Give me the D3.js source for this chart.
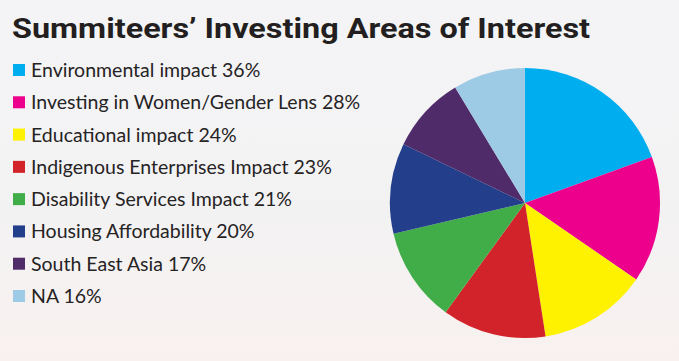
<!DOCTYPE html>
<html><head><meta charset="utf-8">
<script src="https://cdn.jsdelivr.net/npm/d3@7"></script>
<style>html,body{margin:0;padding:0;overflow:hidden;}</style>
</head><body>
<script>
const categories = ["Environmental impact", "Investing in Women/Gender Lens", "Educational impact", "Indigenous Enterprises Impact", "Disability Services Impact", "Housing Affordability", "South East Asia", "NA"];
const values = [36, 28, 24, 23, 21, 20, 17, 16];
const colors = ["#00aeef", "#ec008c", "#fff200", "#d2232a", "#41ad49", "#233e8b", "#4f2c69", "#9dcae4"];
const title = "Summiteers\u2019 Investing Areas of Interest";

const W = 679, H = 361;
const svg = d3.select("body").append("svg").attr("width", W).attr("height", H);
const defs = svg.append("defs");
const g = defs.append("linearGradient").attr("id", "bg").attr("x1", 0).attr("y1", 0).attr("x2", 0).attr("y2", 1);
g.append("stop").attr("offset", "0%").attr("stop-color", "#f4f4f6");
g.append("stop").attr("offset", "60%").attr("stop-color", "#f3f2f3");
g.append("stop").attr("offset", "100%").attr("stop-color", "#f8f1ef");
svg.append("rect").attr("width", W).attr("height", H).attr("fill", "url(#bg)");

svg.append("text").attr("x", 12).attr("y", 38)
  .attr("font-family", "Roboto, 'Open Sans', sans-serif").attr("font-weight", 700)
  .attr("font-size", 28).attr("fill", "#231f20")
  .attr("textLength", 578).attr("lengthAdjust", "spacingAndGlyphs")
  .text(title);

const y = d3.scalePoint().domain(categories).range([70, 296]);
const leg = svg.append("g").selectAll("g").data(categories).join("g")
  .attr("transform", d => `translate(0,${y(d)})`);
leg.append("rect").attr("x", 13).attr("y", -6).attr("width", 12).attr("height", 12)
  .attr("fill", (d, i) => colors[i]);
leg.append("text").attr("x", 31).attr("y", 7)
  .attr("font-family", "Lato, 'Open Sans', sans-serif").attr("font-size", 19.5)
  .attr("fill", "#262324")
  .text((d, i) => `${d} ${values[i]}%`);

const pie = d3.pie().sort(null).value(d => d);
const arc = d3.arc().innerRadius(0).outerRadius(135);
svg.append("g").attr("transform", "translate(525,203)")
  .selectAll("path").data(pie(values)).join("path")
  .attr("d", arc).attr("fill", (d, i) => colors[i]);
</script>
</body></html>
